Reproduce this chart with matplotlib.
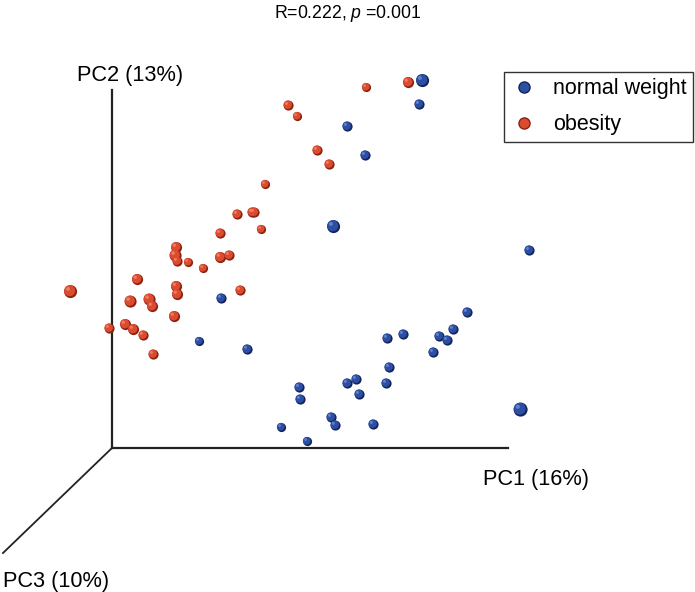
import matplotlib
matplotlib.use("Agg")
import matplotlib.pyplot as plt
import numpy as np
from matplotlib.lines import Line2D

plt.rcParams['font.family'] = ['Liberation Sans', 'DejaVu Sans']
plt.rcParams['mathtext.fontset'] = 'custom'
plt.rcParams['mathtext.rm'] = 'Liberation Sans'
plt.rcParams['mathtext.it'] = 'Liberation Sans:italic'

# projected ordination positions (screen units, origin at the PC axes corner)
obesity_x = [-42, -3, 25, 18, 37, 40, 13, 21, 31, 41, 62, 64, 65, 64, 63, 65, 76, 91,
             108, 108, 117, 128, 140, 149, 125, 142, 153, 176, 185, 205, 217, 254, 296]
obesity_y = [157, 120, 169, 147, 149, 142, 124, 119, 113, 94, 132, 162, 154, 201, 193,
             187, 186, 180, 215, 191, 193, 158, 236, 219, 234, 236, 264, 343, 332, 298,
             284, 361, 366]
obesity_d = [13, 10, 11, 12, 12, 11, 11, 11, 10, 10, 11, 11, 11, 11, 12, 10, 9, 9,
             10, 11, 10, 10, 10, 9, 10, 10, 9, 10, 9, 10, 10, 9, 11]

normal_x = [109, 87, 135, 221, 310, 307, 235, 253, 355, 341, 327, 335, 321, 291, 275,
            277, 274, 244, 235, 247, 187, 188, 219, 223, 261, 169, 195, 408, 417]
normal_y = [150, 107, 99, 222, 368, 344, 322, 293, 136, 119, 112, 108, 96, 114, 110,
            81, 65, 69, 65, 54, 61, 49, 31, 23, 24, 21, 7, 39, 198]
normal_d = [10, 9, 10, 13, 13, 10, 10, 10, 10, 10, 10, 10, 10, 10, 10, 10, 10, 10,
            10, 10, 10, 10, 10, 10, 10, 9, 9, 14, 10]

red, red_dark, red_hi = '#dc4a2f', '#8a2412', '#f08a70'
blue, blue_dark, blue_hi = '#2c4ea3', '#14245c', '#6f8fd6'


def spheres(ax, x, y, d, base, dark, hi):
    # fake 3D shading: dark rim, main body, small highlight
    d = np.array(d) * 0.72
    x = np.array(x, dtype=float)
    y = np.array(y, dtype=float)
    ax.scatter(x + 0.6, y - 0.6, s=d ** 2, color=dark, lw=0, zorder=3)
    ax.scatter(x - 0.3, y + 0.3, s=(d * 0.85) ** 2, color=base, lw=0, zorder=4)
    ax.scatter(x - d * 0.22, y + d * 0.22, s=(d * 0.3) ** 2, color=hi, lw=0,
               alpha=0.8, zorder=5)


fig = plt.figure(figsize=(6.95, 5.92), dpi=100)
ax = fig.add_axes([0, 0, 1, 1])
ax.set_xlim(-112, 583)
ax.set_ylim(-144, 448)
ax.axis('off')

# axes of the ordination box
ax.plot([0, 0], [0, 358], color='#222222', lw=1.6)
ax.plot([0, 396], [0, 0], color='#222222', lw=1.6)
ax.plot([0, -109], [0, -105], color='#222222', lw=1.3)

spheres(ax, obesity_x, obesity_y, obesity_d, red, red_dark, red_hi)
spheres(ax, normal_x, normal_y, normal_d, blue, blue_dark, blue_hi)

ax.text(-35, 367, 'PC2 (13%)', fontsize=15.7, ha='left', va='baseline')
ax.text(371, -37, 'PC1 (16%)', fontsize=15.7, ha='left', va='baseline')
ax.text(-109, -139, 'PC3 (10%)', fontsize=15.7, ha='left', va='baseline')

fig.text(0.5, 1 - 18 / 592, 'R=0.222, $p$ =0.001', fontsize=12.7, ha='center',
         va='baseline')

handles = [Line2D([], [], marker='o', ls='', color=blue, markeredgecolor=blue_dark,
                  markersize=8, label='normal weight'),
           Line2D([], [], marker='o', ls='', color=red, markeredgecolor=red_dark,
                  markersize=8, label='obesity')]
leg = ax.legend(handles=handles, loc='upper right', bbox_to_anchor=(0.997, 1 - 72 / 592),
                bbox_transform=fig.transFigure, fontsize=15.5, frameon=True,
                fancybox=False, edgecolor='black', borderaxespad=0,
                handletextpad=0.75, labelspacing=0.68, borderpad=0.3,
                handlelength=1.2)
leg.get_frame().set_linewidth(1.0)

fig.savefig('out.png', dpi=100)
